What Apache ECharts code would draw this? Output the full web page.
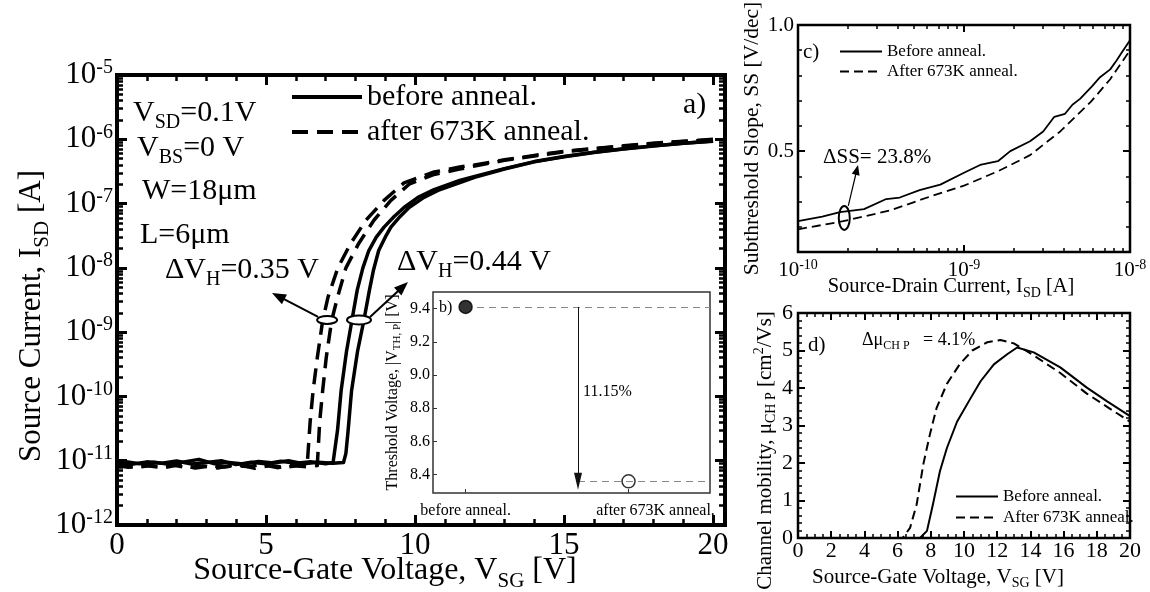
<!DOCTYPE html>
<html><head><meta charset="utf-8">
<script src="https://cdn.jsdelivr.net/npm/echarts@6/dist/echarts.min.js"></script>
<style>html,body{margin:0;padding:0;background:#fff}#c{width:1150px;height:592px}</style>
</head><body><div id="c"></div>
<script>
// ================= DATA =================
// Panel a) I_SD [A] vs V_SG [V]; two sweeps per condition
const beforeSweep1 = [[0,9.5e-12],[0.5,8.8e-12],[1,9.6e-12],[1.5,9.1e-12],[2,9.9e-12],[2.5,8.9e-12],[3,9.4e-12],[3.5,1.0e-11],[4,8.7e-12],[4.5,9.5e-12],[5,9.0e-12],[5.5,9.8e-12],[6,9.1e-12],[6.5,9.6e-12],[7,9.0e-12],[7.25,9.4e-12],
 [7.4,3.0e-11],[7.52,1.23e-10],[7.7,5.0e-10],[7.88,1.5e-9],[8.06,4.5e-9],[8.25,1.0e-8],[8.45,1.86e-8],[8.7,3.0e-8],[8.96,4.3e-8],[9.3,6.3e-8],[9.63,8.7e-8],[10.1,1.25e-7],[10.64,1.65e-7],[11.5,2.3e-7],[12,2.65e-7],[13,3.5e-7],[14,4.5e-7],[15,5.4e-7],[16,6.3e-7],[17,7.1e-7],[18,7.9e-7],[19,8.7e-7],[20,9.4e-7]];
const beforeSweep2 = [[0,9.1e-12],[0.25,9.7e-12],[0.75,9.0e-12],[1.25,9.5e-12],[1.75,8.8e-12],[2.25,9.6e-12],[2.75,1.05e-11],[3.25,9.0e-12],[3.75,9.4e-12],[4.25,8.9e-12],[4.75,9.7e-12],[5.25,9.2e-12],[5.75,1.0e-11],[6.25,9.0e-12],[6.75,9.5e-12],[7.25,9.1e-12],[7.6,9.4e-12],
 [7.68,1.3e-11],[7.75,2.8e-11],[7.87,1.23e-10],[8.07,5.0e-10],[8.28,1.5e-9],[8.47,4.5e-9],[8.6,9.0e-9],[8.78,1.86e-8],[9.0,3.0e-8],[9.19,4.3e-8],[9.5,6.3e-8],[9.8,8.7e-8],[10.3,1.25e-7],[10.77,1.6e-7],[11.6,2.2e-7],[12,2.55e-7],[13,3.45e-7],[14,4.45e-7],[15,5.35e-7],[16,6.25e-7],[17,7.05e-7],[18,7.85e-7],[19,8.65e-7],[20,9.3e-7]];
const afterSweep1 = [[0,8.0e-12],[0.125,8.6e-12],[0.625,7.8e-12],[1.125,8.4e-12],[1.625,7.9e-12],[2.125,8.7e-12],[2.625,7.7e-12],[3.125,8.3e-12],[3.625,8.0e-12],[4.125,8.6e-12],[4.625,7.6e-12],[5.125,8.4e-12],[5.625,7.9e-12],[6.125,8.5e-12],[6.38,8.3e-12],
 [6.48,4.0e-11],[6.58,1.23e-10],[6.72,4.0e-10],[6.9,1.5e-9],[7.08,3.5e-9],[7.41,1.0e-8],[7.84,2.4e-8],[8.35,5.5e-8],[8.96,1.12e-7],[9.63,2.1e-7],[10.64,3.1e-7],[11.5,3.7e-7],[12,4.0e-7],[13,4.8e-7],[14,5.6e-7],[15,6.5e-7],[16,7.2e-7],[17,7.9e-7],[18,8.7e-7],[19,9.3e-7],[20,1.0e-6]];
const afterSweep2 = [[0,8.4e-12],[0.375,7.9e-12],[0.875,8.5e-12],[1.375,8.0e-12],[1.875,8.6e-12],[2.375,7.8e-12],[2.875,8.3e-12],[3.375,7.7e-12],[3.875,8.5e-12],[4.375,8.1e-12],[4.875,8.7e-12],[5.375,7.8e-12],[5.875,8.4e-12],[6.375,8.0e-12],[6.72,8.4e-12],
 [6.8,4.0e-11],[6.9,1.23e-10],[7.02,4.0e-10],[7.2,1.5e-9],[7.4,3.5e-9],[7.68,1.0e-8],[8.11,2.4e-8],[8.62,5.5e-8],[9.19,1.12e-7],[9.8,2.0e-7],[10.6,2.8e-7],[11.45,3.4e-7],[12,3.85e-7],[13,4.7e-7],[14,5.5e-7],[15,6.4e-7],[16,7.1e-7],[17,7.8e-7],[18,8.6e-7],[19,9.2e-7],[20,9.9e-7]];
const namesA = ['before anneal.', 'after 673K anneal.'];
const xTicksA = [0, 5, 10, 15, 20];

// Inset b) threshold voltage
const insetCategories = ['before anneal.', 'after 673K anneal.'];
const insetVth = [9.41, 8.36];
const insetYTicks = [8.4, 8.6, 8.8, 9.0, 9.2, 9.4];
const insetDropText = '11.15%';

// Panel c) SS [V/dec] vs I_SD [A]
const ssBefore = [[1e-10,0.222],[1.4e-10,0.24],[1.79e-10,0.258],[2.5e-10,0.27],[3.4e-10,0.31],[4.1e-10,0.316],[5.4e-10,0.345],[7.2e-10,0.367],[1e-9,0.414],[1.25e-9,0.445],[1.6e-9,0.46],[1.9e-9,0.5],[2.5e-9,0.539],[3e-9,0.578],[3.5e-9,0.636],[4.06e-9,0.648],[4.5e-9,0.684],[5e-9,0.707],[5.9e-9,0.757],[6.6e-9,0.793],[7.6e-9,0.824],[8.3e-9,0.859],[8.9e-9,0.89],[1e-8,0.94]];
const ssAfter = [[1e-10,0.19],[1.87e-10,0.222],[3.6e-10,0.265],[6e-10,0.316],[1e-9,0.363],[1.6e-9,0.42],[2.5e-9,0.484],[3.8e-9,0.578],[5.8e-9,0.695],[7.6e-9,0.785],[1e-8,0.9]];
const namesCD = ['Before anneal.', 'After 673K anneal.'];
const ssYLabels = [0.5, 1.0];

// Panel d) mobility [cm2/Vs] vs V_SG [V]
const muBefore = [[0,0],[7.35,0],[7.77,0.19],[8.13,0.9],[8.55,1.78],[8.97,2.4],[9.58,3.1],[10.4,3.73],[11,4.18],[11.8,4.63],[12.6,4.9],[13.2,5.08],[14.2,4.95],[15.8,4.55],[17.4,4.01],[18.6,3.65],[20,3.25]];
const muAfter = [[0,0],[6.3,0],[6.75,0.27],[7.15,0.9],[7.55,1.97],[7.95,2.77],[8.35,3.47],[8.97,4.11],[9.75,4.64],[10.5,5.0],[11.4,5.22],[12.2,5.28],[13.0,5.19],[14.2,4.87],[15.8,4.4],[17.4,3.85],[20,3.1]];

// ================= CHART =================
const FONT = 'Liberation Serif';
const K = '#000';
const chart = echarts.init(document.getElementById('c'), null, {renderer: 'canvas', width: 1150, height: 592});

const xAxes = [], yAxes = [];
const addX = c => (xAxes.push(c), xAxes.length - 1);
const addY = c => (yAxes.push(c), yAxes.length - 1);
const noLine = () => ({show: false, onZero: false});
const noSplit = {show: false};
function tickOnly(grid, pos, min, max, values, len, w) {
  return {gridIndex: grid, position: pos, type: 'value', min, max, silent: true,
    axisLine: noLine(), axisLabel: {show: false}, splitLine: {show: false},
    axisTick: {show: true, inside: true, length: len, lineStyle: {color: K, width: w}, customValues: values}};
}
function minorLogExps(e0, e1) {
  const out = [];
  for (let e = e0; e < e1; e++) for (let k = 2; k <= 9; k++) out.push(e + Math.log10(k));
  return out;
}
const sciFmt = v => '{b|10}{e|' + Math.round(Math.log10(v)) + '}';

// ---- panel a axes (grid 0)
const aX = addX({gridIndex: 0, type: 'value', min: 0, max: 20.4, position: 'bottom',
  axisLine: noLine(), splitLine: noSplit,
  axisTick: {inside: true, length: 10, lineStyle: {color: K, width: 3}, customValues: xTicksA},
  axisLabel: {customValues: xTicksA, color: K, fontFamily: FONT, fontSize: 31, margin: 5},
  name: 'Source-Gate Voltage, V{s|SG} [V]', nameLocation: 'middle', nameGap: 25, nameMoveOverlap: false,
  nameTextStyle: {color: K, fontFamily: FONT, fontSize: 32, lineHeight: 42, padding: [0, 72, 0, 0],
    rich: {s: {fontSize: 21, fontFamily: FONT, verticalAlign: 'bottom', lineHeight: 21}}}});
addX(tickOnly(0, 'top', 0, 20.4, xTicksA, 10, 3));
const aMinorX = [1,2,3,4,6,7,8,9,11,12,13,14,16,17,18,19];
addX(tickOnly(0, 'bottom', 0, 20.4, aMinorX, 6, 2.5));
addX(tickOnly(0, 'top', 0, 20.4, aMinorX, 6, 2.5));
const aY = addY({gridIndex: 0, type: 'log', logBase: 10, min: 1e-12, max: 1e-5, position: 'left',
  axisLine: noLine(), splitLine: noSplit,
  axisTick: {inside: true, length: 10, lineStyle: {color: K, width: 3}},
  axisLabel: {formatter: sciFmt, margin: 4, color: K,
    rich: {b: {fontSize: 31, fontFamily: FONT, color: K, lineHeight: 34},
           e: {fontSize: 20, fontFamily: FONT, color: K, verticalAlign: 'top', lineHeight: 20}}},
  name: 'Source Current, I{s|SD} [A]', nameLocation: 'middle', nameGap: 64, nameRotate: 90, nameMoveOverlap: false,
  nameTextStyle: {color: K, fontFamily: FONT, fontSize: 31, lineHeight: 42, padding: [0, 32, 0, 0],
    rich: {s: {fontSize: 21, fontFamily: FONT, verticalAlign: 'bottom', lineHeight: 21}}}});
addY({gridIndex: 0, type: 'log', logBase: 10, min: 1e-12, max: 1e-5, position: 'right',
  axisLine: noLine(), splitLine: noSplit, axisLabel: {show: false},
  axisTick: {inside: true, length: 10, lineStyle: {color: K, width: 3}}});
const aMinorY = minorLogExps(-12, -5);
addY(tickOnly(0, 'left', -12, -5, aMinorY, 6, 2.5));
addY(tickOnly(0, 'right', -12, -5, aMinorY, 6, 2.5));

// ---- inset b axes (grid 1)
const bX = addX({gridIndex: 1, type: 'value', min: -0.2, max: 1.5, position: 'bottom',
  axisLine: noLine(), splitLine: noSplit,
  axisTick: {inside: true, length: 4, lineStyle: {color: '#333', width: 1}, customValues: [0, 1]},
  axisLabel: {customValues: [0, 1], margin: 10, color: K,
    formatter: v => v < 0.5 ? '{a|' + insetCategories[0] + '}' : '{c|' + insetCategories[1] + '}',
    rich: {a: {fontSize: 16, fontFamily: FONT, color: K}, c: {fontSize: 16, fontFamily: FONT, color: K, padding: [0, 0, 0, 54]}}}});
const bY = addY({gridIndex: 1, type: 'value', min: 8.29, max: 9.5, position: 'left',
  axisLine: noLine(), splitLine: noSplit,
  axisTick: {inside: true, length: 4, lineStyle: {color: '#333', width: 1}, customValues: insetYTicks},
  axisLabel: {customValues: insetYTicks, formatter: v => v.toFixed(1), margin: 3, color: K, fontFamily: FONT, fontSize: 16},
  name: 'Threshold Voltage, |V{s|TH, P}| [V]', nameLocation: 'middle', nameGap: 30, nameRotate: 90, nameMoveOverlap: false,
  nameTextStyle: {color: K, fontFamily: FONT, fontSize: 16, lineHeight: 20,
    rich: {s: {fontSize: 11, fontFamily: FONT, verticalAlign: 'bottom', lineHeight: 11}}}});

// ---- panel c axes (grid 2)
const cX = addX({gridIndex: 2, type: 'log', logBase: 10, min: 1e-10, max: 1e-8, position: 'bottom',
  axisLine: noLine(), splitLine: noSplit,
  axisTick: {inside: true, length: 7, lineStyle: {color: K, width: 2}},
  axisLabel: {formatter: sciFmt, margin: 6, color: K,
    rich: {b: {fontSize: 21, fontFamily: FONT, color: K, lineHeight: 24},
           e: {fontSize: 14, fontFamily: FONT, color: K, verticalAlign: 'top', lineHeight: 14}}},
  name: 'Source-Drain Current, I{s|SD} [A]', nameLocation: 'middle', nameGap: 22, nameMoveOverlap: false,
  nameTextStyle: {color: K, fontFamily: FONT, fontSize: 20.5, lineHeight: 26, padding: [0, 26, 0, 0],
    rich: {s: {fontSize: 14, fontFamily: FONT, verticalAlign: 'bottom', lineHeight: 14}}}});
addX({gridIndex: 2, type: 'log', logBase: 10, min: 1e-10, max: 1e-8, position: 'top',
  axisLine: noLine(), splitLine: noSplit, axisLabel: {show: false},
  axisTick: {inside: true, length: 7, lineStyle: {color: K, width: 2}}});
const cMinorX = minorLogExps(-10, -8);
addX(tickOnly(2, 'bottom', -10, -8, cMinorX, 4, 1.5));
addX(tickOnly(2, 'top', -10, -8, cMinorX, 4, 1.5));
const cY = addY({gridIndex: 2, type: 'value', min: 0.1, max: 1.0, position: 'left',
  axisLine: noLine(), splitLine: noSplit,
  axisTick: {inside: true, length: 7, lineStyle: {color: K, width: 2}, customValues: ssYLabels},
  axisLabel: {customValues: ssYLabels, formatter: v => v.toFixed(1), margin: 4, color: K, fontFamily: FONT, fontSize: 21},
  name: 'Subthreshold Slope, SS [V/dec]', nameLocation: 'middle', nameGap: 33, nameRotate: 90, nameMoveOverlap: false,
  nameTextStyle: {color: K, fontFamily: FONT, fontSize: 21.5, lineHeight: 26}});
addY(tickOnly(2, 'right', 0.1, 1.0, ssYLabels, 7, 2));
const cMinorY = [0.2, 0.3, 0.4, 0.6, 0.7, 0.8, 0.9];
addY(tickOnly(2, 'left', 0.1, 1.0, cMinorY, 4, 1.5));
addY(tickOnly(2, 'right', 0.1, 1.0, cMinorY, 4, 1.5));

// ---- panel d axes (grid 3)
const dX = addX({gridIndex: 3, type: 'value', min: 0, max: 20, interval: 2, position: 'bottom',
  axisLine: noLine(), splitLine: noSplit,
  axisTick: {inside: true, length: 7, lineStyle: {color: K, width: 2}},
  minorTick: {show: true, splitNumber: 4, length: 4, lineStyle: {color: K, width: 1.5}},
  axisLabel: {margin: 2, color: K, fontFamily: FONT, fontSize: 22},
  name: 'Source-Gate Voltage, V{s|SG} [V]', nameLocation: 'middle', nameGap: 26, nameMoveOverlap: false,
  nameTextStyle: {color: K, fontFamily: FONT, fontSize: 21, lineHeight: 26, padding: [0, 52, 0, 0],
    rich: {s: {fontSize: 14, fontFamily: FONT, verticalAlign: 'bottom', lineHeight: 14}}}});
addX({gridIndex: 3, type: 'value', min: 0, max: 20, interval: 2, position: 'top',
  axisLine: noLine(), splitLine: noSplit, axisLabel: {show: false},
  axisTick: {inside: true, length: 7, lineStyle: {color: K, width: 2}},
  minorTick: {show: true, splitNumber: 4, length: 4, lineStyle: {color: K, width: 1.5}}});
const dY = addY({gridIndex: 3, type: 'value', min: 0, max: 6, interval: 1, position: 'left',
  axisLine: noLine(), splitLine: noSplit,
  axisTick: {inside: true, length: 7, lineStyle: {color: K, width: 2}},
  minorTick: {show: true, splitNumber: 5, length: 4, lineStyle: {color: K, width: 1.5}},
  axisLabel: {margin: 5, color: K, fontFamily: FONT, fontSize: 22},
  name: 'Channel mobility, μ{s|CH P} [cm{p|2}/Vs]', nameLocation: 'middle', nameGap: 20, nameRotate: 90, nameMoveOverlap: false,
  nameTextStyle: {color: K, fontFamily: FONT, fontSize: 21, lineHeight: 26, padding: [0, 50, 0, 0],
    rich: {s: {fontSize: 14, fontFamily: FONT, verticalAlign: 'bottom', lineHeight: 14},
           p: {fontSize: 14, fontFamily: FONT, verticalAlign: 'top', lineHeight: 14}}}});
addY({gridIndex: 3, type: 'value', min: 0, max: 6, interval: 1, position: 'right',
  axisLine: noLine(), splitLine: noSplit, axisLabel: {show: false},
  axisTick: {inside: true, length: 7, lineStyle: {color: K, width: 2}},
  minorTick: {show: true, splitNumber: 5, length: 4, lineStyle: {color: K, width: 1.5}}});

const gridBase = {show: true, borderColor: K, containLabel: false, outerBoundsMode: 'none', backgroundColor: 'transparent'};
const grids = [
  Object.assign({}, gridBase, {left: 117, top: 75, width: 608, height: 450, borderWidth: 4}),
  Object.assign({}, gridBase, {left: 433, top: 292, width: 277, height: 201, borderWidth: 1.5, borderColor: '#333', backgroundColor: '#fff'}),
  Object.assign({}, gridBase, {left: 798, top: 25, width: 332, height: 227, borderWidth: 2.5}),
  Object.assign({}, gridBase, {left: 798, top: 313, width: 332, height: 225, borderWidth: 2.5})
];

function lineSeries(name, data, xi, yi, width, dash) {
  return {type: 'line', name, data, xAxisIndex: xi, yAxisIndex: yi, symbol: 'none', smooth: false,
    animation: false, z: 3, itemStyle: {color: K},
    lineStyle: {color: K, width, type: dash || 'solid', cap: 'butt', join: 'round'}};
}
const dashA = [16, 9];
const dashC = [9, 5];
const series = [
  lineSeries(namesA[0], beforeSweep1, aX, aY, 3.5),
  lineSeries(namesA[0], beforeSweep2, aX, aY, 3.5),
  lineSeries(namesA[1], afterSweep1, aX, aY, 3.5, dashA),
  lineSeries(namesA[1], afterSweep2, aX, aY, 3.5, dashA),
  {type: 'scatter', name: 'Vth', xAxisIndex: bX, yAxisIndex: bY, animation: false, z: 4, symbolSize: 13,
    data: [
      {value: [0, insetVth[0]], itemStyle: {color: K, borderColor: K, borderWidth: 1.5}},
      {value: [1, insetVth[1]], itemStyle: {color: '#fff', borderColor: K, borderWidth: 1.5}}
    ],
    markLine: {silent: true, animation: false, symbol: ['none', 'none'], label: {show: false},
      lineStyle: {color: '#888', type: [7, 5], width: 1.2},
      data: [
        [{coord: [0.07, insetVth[0]]}, {coord: [1.5, insetVth[0]]}],
        [{coord: [0.69, insetVth[1]]}, {coord: [1.5, insetVth[1]]}],
        [{coord: [0.69, insetVth[0]], symbol: 'none', lineStyle: {color: '#111', type: 'solid', width: 1}},
         {coord: [0.69, insetVth[1]], symbol: 'triangle', symbolSize: [8, 17], lineStyle: {color: '#111', type: 'solid', width: 1}, itemStyle: {color: '#111'}}]
      ]}},
  lineSeries(namesCD[0], ssBefore, cX, cY, 1.8),
  lineSeries(namesCD[1], ssAfter, cX, cY, 1.8, dashC),
  lineSeries(namesCD[0], muBefore, dX, dY, 2),
  lineSeries(namesCD[1], muAfter, dX, dY, 2, dashC)
];

const legendBase = {orient: 'vertical', selectedMode: false, padding: 0, itemStyle: {opacity: 0, borderWidth: 0}};
const legends = [
  Object.assign({}, legendBase, {data: namesA, left: 290, top: 82, itemWidth: 70, itemHeight: 14, itemGap: 5,
    lineStyle: {width: 4, color: K},
    textStyle: {color: K, fontFamily: FONT, fontSize: 30, lineHeight: 30}}),
  Object.assign({}, legendBase, {data: namesCD, left: 839, top: 43, itemWidth: 42, itemHeight: 10, itemGap: 3,
    lineStyle: {width: 2, color: K},
    textStyle: {color: K, fontFamily: FONT, fontSize: 17, lineHeight: 17}}),
  Object.assign({}, legendBase, {data: namesCD, left: 955, top: 488, itemWidth: 42, itemHeight: 10, itemGap: 4,
    lineStyle: {width: 2, color: K},
    textStyle: {color: K, fontFamily: FONT, fontSize: 17, lineHeight: 17}})
];

chart.setOption({
  animation: false,
  color: [K],
  textStyle: {fontFamily: FONT, color: K},
  grid: grids, xAxis: xAxes, yAxis: yAxes, series, legend: legends
});

// ---------- annotations ----------
function txt(x, y, text, size, subSize, extra) {
  return Object.assign({type: 'text', z: 20, style: {x, y, text, fill: K, fontFamily: FONT, fontSize: size,
    lineHeight: Math.round(size * 1.33), verticalAlign: 'middle', align: 'left',
    rich: {s: {fontSize: subSize, fontFamily: FONT, fill: K, verticalAlign: 'bottom', lineHeight: subSize}}}}, extra || {});
}
function arrow(x1, y1, x2, y2, hl, hw, lw) {
  const dx = x2 - x1, dy = y2 - y1, L = Math.hypot(dx, dy), ux = dx / L, uy = dy / L;
  const bx = x2 - ux * hl, by = y2 - uy * hl;
  return [
    {type: 'line', z: 20, shape: {x1, y1, x2: bx + ux, y2: by + uy}, style: {stroke: K, lineWidth: lw}},
    {type: 'polygon', z: 20, shape: {points: [[x2, y2], [bx - uy * hw / 2, by + ux * hw / 2], [bx + uy * hw / 2, by - ux * hw / 2]]}, style: {fill: K}}
  ];
}
const px = (xi, yi, v) => chart.convertToPixel({xAxisIndex: xi, yAxisIndex: yi}, v);
const eA = px(aX, aY, [7.05, 1.55e-9]);
const eB = px(aX, aY, [8.12, 1.55e-9]);
const eC = px(cX, cY, [1.9e-10, 0.235]);

const graphics = [
  txt(133, 113, 'V{s|SD}=0.1V', 30, 20),
  txt(137, 148, 'V{s|BS}=0 V', 30, 20),
  txt(142, 191, 'W=18μm', 30, 20),
  txt(140, 235, 'L=6μm', 30, 20),
  txt(165, 270, 'ΔV{s|H}=0.35 V', 30, 20),
  txt(397, 262, 'ΔV{s|H}=0.44 V', 30, 20),
  txt(683, 105, 'a)', 30, 20),
  {type: 'ellipse', z: 21, shape: {cx: eA[0], cy: eA[1], rx: 10, ry: 4}, style: {fill: '#fff', stroke: K, lineWidth: 2}},
  {type: 'ellipse', z: 21, shape: {cx: eB[0], cy: eB[1], rx: 12, ry: 4.5}, style: {fill: '#fff', stroke: K, lineWidth: 2}},
  ...arrow(eA[0] - 9, eA[1] - 3, 272, 293, 14, 11, 2),
  ...arrow(eB[0] + 11, eB[1] - 3, 408, 282, 14, 11, 2),
  txt(439, 308, 'b)', 16, 11),
  txt(583, 392, insetDropText, 16, 11),
  txt(803, 52, 'c)', 21, 14),
  txt(823, 157, 'ΔSS= 23.8%', 21, 14),
  {type: 'ellipse', z: 21, shape: {cx: eC[0], cy: eC[1], rx: 5.5, ry: 12}, style: {fill: 'none', stroke: K, lineWidth: 2}},
  ...arrow(eC[0] + 4, eC[1] - 12, 858, 165, 10, 8, 1.2),
  txt(808, 345, 'd)', 21, 14),
  txt(862, 340, 'Δμ{s|CH P}   = 4.1%', 18, 12)
];
chart.setOption({graphic: graphics});
</script>
</body></html>
